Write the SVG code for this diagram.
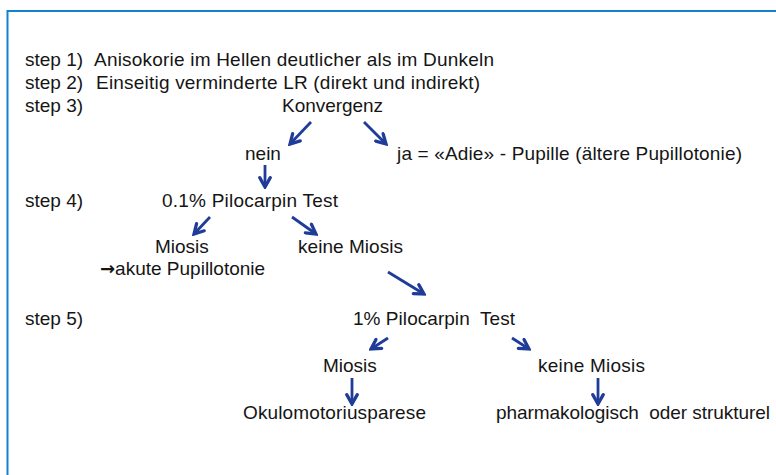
<svg xmlns="http://www.w3.org/2000/svg" width="776" height="475" viewBox="0 0 776 475">
<style>
text{font-family:"Liberation Sans",Arial,sans-serif;font-size:19px;fill:#151515}
.c{stroke:#1f3d98;stroke-width:2.8;fill:none}
.frame{stroke:#1282cf;stroke-width:2;fill:none}
.ar{font-family:"DejaVu Sans",sans-serif;font-size:18px;font-weight:bold}
</style>
<defs>
<marker id="ah" markerUnits="userSpaceOnUse" markerWidth="14" markerHeight="14" refX="10" refY="6" orient="auto" viewBox="0 0 12 12">
<path d="M2,1.5 L10,6 L2,10.5" fill="none" stroke="#1f3d98" stroke-width="2.8" stroke-linecap="round" stroke-linejoin="miter"/>
</marker>
</defs>
<rect width="776" height="475" fill="#fff"/>
<path class="frame" d="M776,11 H7.5 V475"/>
<g id="steps">
<text x="25" y="66">step 1)</text>
<text x="25" y="89">step 2)</text>
<text x="25" y="112">step 3)</text>
<text x="25" y="207">step 4)</text>
<text x="25" y="325">step 5)</text>
</g>
<g id="n-step1"><text x="94" y="66" textLength="400" lengthAdjust="spacing">Anisokorie im Hellen deutlicher als im Dunkeln</text></g>
<g id="n-step2"><text x="96" y="89" textLength="384" lengthAdjust="spacing">Einseitig verminderte LR (direkt und indirekt)</text></g>
<g id="n-konvergenz"><text x="282" y="112" textLength="101" lengthAdjust="spacing">Konvergenz</text></g>
<g id="n-nein"><text x="245" y="160">nein</text></g>
<g id="n-ja"><text x="397" y="160" textLength="345" lengthAdjust="spacing">ja = «Adie» - Pupille (ältere Pupillotonie)</text></g>
<g id="n-pilo01"><text x="162" y="207" textLength="176" lengthAdjust="spacing">0.1% Pilocarpin Test</text></g>
<g id="n-miosis1"><text x="155" y="253">Miosis</text><text x="100" y="275"><tspan class="ar">→</tspan><tspan>akute Pupillotonie</tspan></text></g>
<g id="n-keine1"><text x="298" y="253" textLength="105" lengthAdjust="spacing">keine Miosis</text></g>
<g id="n-pilo1"><text x="353" y="325" xml:space="preserve" textLength="162" lengthAdjust="spacing">1% Pilocarpin  Test</text></g>
<g id="n-miosis2"><text x="323" y="372">Miosis</text></g>
<g id="n-keine2"><text x="538" y="372" textLength="107" lengthAdjust="spacing">keine Miosis</text></g>
<g id="n-okulo"><text x="243" y="419" textLength="183" lengthAdjust="spacing">Okulomotoriusparese</text></g>
<g id="n-pharm"><text x="496" y="419" xml:space="preserve" textLength="274" lengthAdjust="spacing">pharmakologisch  oder strukturel</text></g>
<g id="connectors">
<line class="c" x1="311" y1="122" x2="290" y2="144" marker-end="url(#ah)"/>
<line class="c" x1="364" y1="122" x2="386" y2="144" marker-end="url(#ah)"/>
<line class="c" x1="265" y1="165" x2="265" y2="187" marker-end="url(#ah)"/>
<line class="c" x1="210" y1="217" x2="194" y2="234" marker-end="url(#ah)"/>
<line class="c" x1="292" y1="217" x2="316" y2="234" marker-end="url(#ah)"/>
<line class="c" x1="388" y1="272" x2="424" y2="294" marker-end="url(#ah)"/>
<line class="c" x1="388" y1="338" x2="371" y2="349" marker-end="url(#ah)"/>
<line class="c" x1="512" y1="338" x2="529" y2="349" marker-end="url(#ah)"/>
<line class="c" x1="352" y1="378" x2="352" y2="404" marker-end="url(#ah)"/>
<line class="c" x1="598" y1="378" x2="598" y2="404" marker-end="url(#ah)"/>
</g>
</svg>
